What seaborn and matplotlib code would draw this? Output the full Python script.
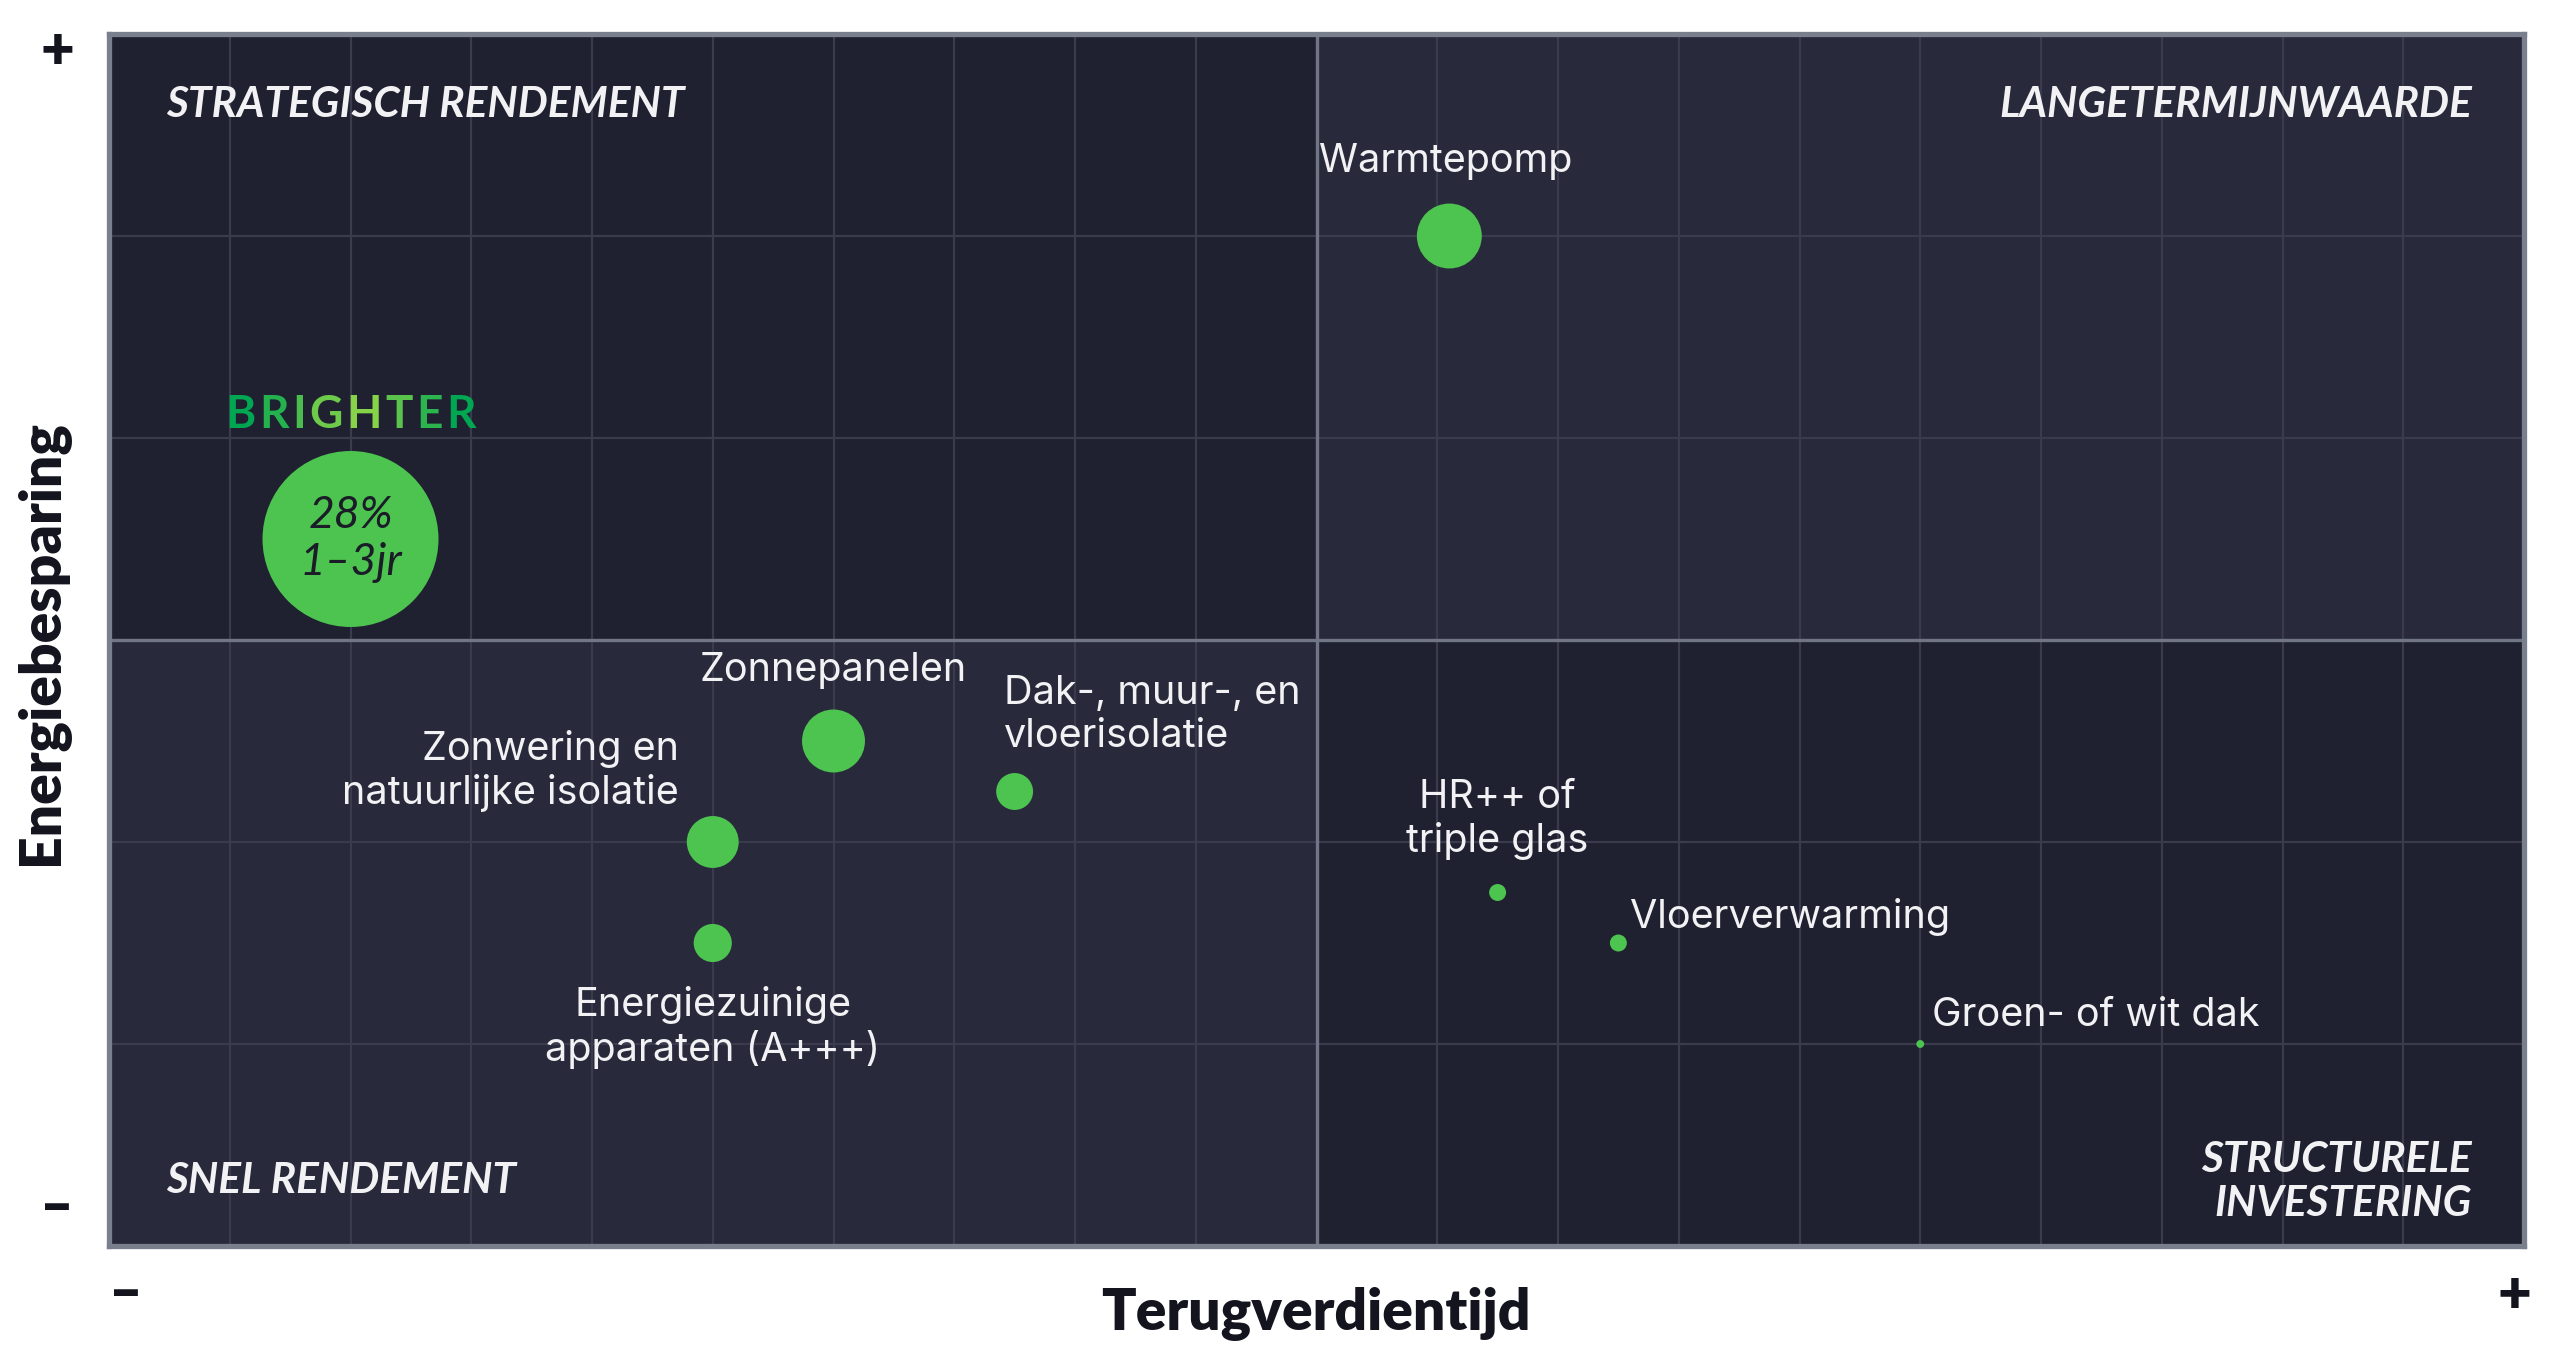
import matplotlib
matplotlib.use("Agg")
import matplotlib.pyplot as plt
import matplotlib.colors as mcolors
from matplotlib.patches import Rectangle
import seaborn as sns
import pandas as pd
import numpy as np

# ---------------- data ----------------
measures = ["BRIGHTER", "Warmtepomp", "Zonnepanelen", "Dak-, muur-, en\nvloerisolatie",
            "Zonwering en\nnatuurlijke isolatie", "Energiezuinige\napparaten (A+++)",
            "HR++ of\ntriple glas", "Vloerverwarming", "Groen- of wit dak"]
payback = [2.0, 11.1, 6.0, 7.5, 5.0, 5.0, 11.5, 12.5, 15.0]        # Terugverdientijd (x)
saving = [3.5, 5.0, 2.5, 2.25, 2.0, 1.5, 1.75, 1.5, 1.0]            # Energiebesparing (y)
impact = [100, 13.6, 12.8, 4.4, 8.7, 4.7, 0.93, 0.93, 0.2]           # bubble size
quadrant_titles = ["STRATEGISCH RENDEMENT", "LANGETERMIJNWAARDE",
                   "SNEL RENDEMENT", "STRUCTURELE\nINVESTERING"]
brighter_badge = ["28%", "1–3jr"]
x_label = "Terugverdientijd"
y_label = "Energiebesparing"

df = pd.DataFrame({"measure": measures, "x": payback, "y": saving, "impact": impact})

# ---------------- style ----------------
sns.set_theme(style="white")
plt.rcParams["font.family"] = ["Lato", "DejaVu Sans"]

GREEN = "#4DC350"
DARK = "#1F2130"
LIGHT = "#282A3B"
GRID = "#3A3C4E"
BORDER = "#7A7F8E"
WHITE = "#F2F2F5"
INK = "#14141F"

fig = plt.figure(figsize=(25.6, 13.69), dpi=100)
ax = fig.add_axes([109 / 2560, 1 - 1246 / 1369, (2524 - 109) / 2560, (1246 - 34) / 1369])
ax.set_xlim(0, 20)
ax.set_ylim(0, 6)

# quadrant backgrounds
for (x0, y0, c) in [(0, 3, DARK), (10, 3, LIGHT), (0, 0, LIGHT), (10, 0, DARK)]:
    ax.add_patch(Rectangle((x0, y0), 10, 3, facecolor=c, edgecolor="none", zorder=0.1))

ax.set_xticks(np.arange(0, 21, 1))
ax.set_yticks(np.arange(0, 7, 1))
ax.tick_params(length=0, labelbottom=False, labelleft=False)
ax.set_axisbelow(True)
ax.grid(True, color=GRID, linewidth=1.6, zorder=0.5)
ax.axvline(10, color="#717686", linewidth=2.4, zorder=1)
ax.axhline(3, color="#717686", linewidth=2.4, zorder=1)
for s in ax.spines.values():
    s.set_color(BORDER)
    s.set_linewidth(3.8)

max_area = (176 * 0.72) ** 2
sns.scatterplot(data=df, x="x", y="y", size="impact", sizes=(0, max_area),
                size_norm=(0, max(impact)), color=GREEN, edgecolor="none",
                legend=False, ax=ax, zorder=3)
ax.set_xlabel("")
ax.set_ylabel("")

# point labels
lab_kw = dict(color=WHITE, fontsize=28.5, zorder=4, linespacing=1.2,
              fontfamily=["Inter", "Lato", "DejaVu Sans"])
ax.text(11.07, 5.37, measures[1], ha="center", va="center", **lab_kw)
ax.text(6.0, 2.85, measures[2], ha="center", va="center", **lab_kw)
ax.text(7.41, 2.63, measures[3], ha="left", va="center", **lab_kw)
ax.text(4.72, 2.35, measures[4], ha="right", va="center", multialignment="right", **lab_kw)
ax.text(5.0, 1.08, measures[5], ha="center", va="center", **lab_kw)
ax.text(11.5, 2.11, measures[6], ha="center", va="center", **lab_kw)
ax.text(12.6, 1.63, measures[7], ha="left", va="center", **lab_kw)
ax.text(15.1, 1.14, measures[8], ha="left", va="center", **lab_kw)

# quadrant titles
q_kw = dict(color=WHITE, fontsize=30.5, fontweight="bold", fontstyle="italic",
            zorder=4, linespacing=1.2)
ax.text(0.47, 5.65, quadrant_titles[0], ha="left", va="center", **q_kw)
ax.text(19.57, 5.65, quadrant_titles[1], ha="right", va="center", **q_kw)
ax.text(0.47, 0.32, quadrant_titles[2], ha="left", va="center", **q_kw)
ax.text(19.57, 0.315, quadrant_titles[3], ha="right", va="center", multialignment="right", **q_kw)

# badge text inside the BRIGHTER bubble
ax.text(payback[0], saving[0], "\n".join(brighter_badge), ha="center", va="center",
        color="#1A1C28", fontsize=32, fontstyle="italic", fontweight="normal",
        linespacing=1.2, zorder=4)

# BRIGHTER wordmark with gradient letters and letter spacing
cmap = mcolors.LinearSegmentedColormap.from_list(
    "brighter", [(0, "#00A651"), (0.55, "#8DD449"), (1, "#00A651")])
word = measures[0]
fig.canvas.draw()
renderer = fig.canvas.get_renderer()
w_kw = dict(fontsize=33, fontweight="bold")
widths = []
for ch in word:
    t = ax.text(0, 0, ch, **w_kw)
    widths.append(t.get_window_extent(renderer).width)
    t.remove()
spacing = 3.5
total = sum(widths) + spacing * (len(word) - 1)
cx, cy = ax.transData.transform((payback[0], 4.05))
xpos = cx - total / 2
for i, ch in enumerate(word):
    col = cmap(i / (len(word) - 1))
    ax.annotate(ch, xy=(xpos, cy), xycoords="figure pixels", ha="left", va="baseline",
                color=col, zorder=5, **w_kw)
    xpos += widths[i] + spacing

# axis labels and +/- markers
fig.text(1316 / 2560, 1 - 1314 / 1369, x_label, ha="center", va="center",
         fontsize=41, fontweight="heavy", color=INK)
fig.text(42 / 2560, 1 - 642 / 1369, y_label, ha="center", va="center", rotation=90,
         fontsize=41, fontweight="heavy", color=INK)
pm_kw = dict(ha="center", va="center", fontsize=42, fontweight="heavy", color=INK)
fig.text(57 / 2560, 1 - 52 / 1369, "+", **pm_kw)
fig.text(57 / 2560, 1 - 1208 / 1369, "–", **pm_kw)
fig.text(126 / 2560, 1 - 1293 / 1369, "–", **pm_kw)
fig.text(2514 / 2560, 1 - 1295 / 1369, "+", **pm_kw)

fig.savefig("out.png", dpi=100, facecolor="white")
